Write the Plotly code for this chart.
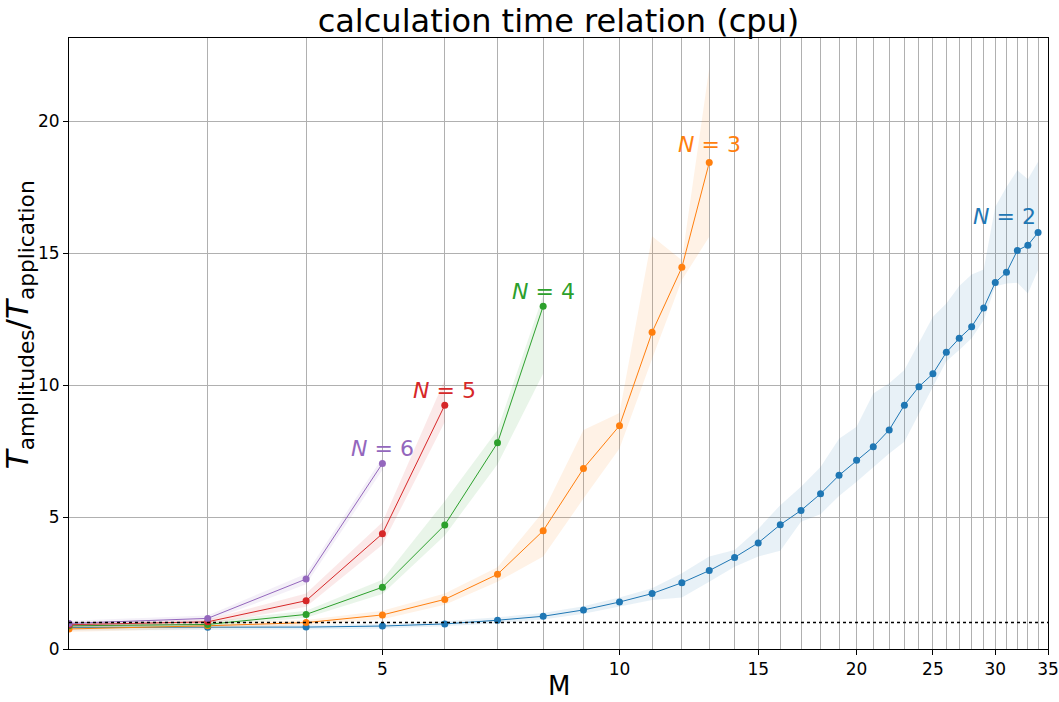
import math
import plotly.graph_objects as go

# Ratio T_amplitudes / T_application versus M, one series per N
M_n2 = list(range(2, 35))
mean_n2 = [0.82, 0.82, 0.83, 0.87, 0.95, 1.09, 1.24, 1.48, 1.78, 2.10, 2.51, 2.97, 3.47,
           4.02, 4.71, 5.25, 5.88, 6.58, 7.15, 7.66, 8.30, 9.24, 9.94, 10.43, 11.24,
           11.77, 12.21, 12.92, 13.89, 14.27, 15.10, 15.30, 15.78]
upper_n2 = [0.95, 0.93, 0.92, 0.95, 1.05, 1.20, 1.36, 1.62, 1.95, 2.30, 2.87, 3.50, 3.75,
            4.55, 5.45, 6.15, 6.90, 7.97, 8.42, 9.68, 10.07, 10.57, 11.58, 12.59, 13.09,
            13.75, 14.19, 14.38, 16.76, 17.50, 18.14, 17.80, 18.46]
lower_n2 = [0.70, 0.72, 0.74, 0.78, 0.86, 0.98, 1.12, 1.34, 1.62, 1.86, 1.95, 2.55, 3.12,
            3.50, 3.72, 4.82, 5.11, 5.80, 6.34, 6.88, 7.41, 7.85, 8.93, 9.94, 10.90,
            11.33, 11.77, 12.46, 13.73, 13.85, 13.88, 13.47, 14.36]

M_n3 = list(range(2, 14))
mean_n3 = [0.76, 0.88, 1.00, 1.29, 1.88, 2.83, 4.48, 6.84, 8.46, 12.00, 14.46, 18.43]
upper_n3 = [0.88, 0.98, 1.10, 1.45, 2.10, 3.10, 5.20, 8.30, 8.94, 15.64, 14.73, 22.00]
lower_n3 = [0.64, 0.78, 0.90, 1.13, 1.68, 2.55, 3.50, 5.70, 7.60, 11.00, 13.98, 15.62]

M_n4 = list(range(2, 9))
mean_n4 = [0.88, 0.93, 1.31, 2.34, 4.70, 7.81, 12.99]
upper_n4 = [0.98, 1.03, 1.45, 2.62, 5.60, 8.30, 13.40]
lower_n4 = [0.78, 0.85, 1.18, 2.08, 4.30, 7.00, 10.44]

M_n5 = list(range(2, 7))
mean_n5 = [0.92, 1.03, 1.83, 4.37, 9.24]
upper_n5 = [1.02, 1.12, 2.10, 4.80, 10.20]
lower_n5 = [0.82, 0.94, 1.60, 3.95, 8.60]

M_n6 = list(range(2, 6))
mean_n6 = [0.97, 1.16, 2.65, 7.03]
upper_n6 = [1.07, 1.27, 2.85, 7.25]
lower_n6 = [0.87, 1.05, 2.45, 6.78]

labels = ["2", "3", "4", "5", "6"]
label_x = [30.8, 13, 8, 6, 5]
label_y = [16.4, 19.1, 13.55, 9.8, 7.6]

x_ticks = [5, 10, 15, 20, 25, 30, 35]
x_minor = [m for m in range(3, 35) if m not in x_ticks]
y_ticks = [0, 5, 10, 15, 20]

colors = ["#1f77b4", "#ff7f0e", "#2ca02c", "#d62728", "#9467bd"]
fills = ["rgba(31,119,180,0.1)", "rgba(255,127,14,0.1)", "rgba(44,160,44,0.1)",
         "rgba(214,39,40,0.1)", "rgba(148,103,189,0.1)"]

series = [
    (M_n2, mean_n2, upper_n2, lower_n2),
    (M_n3, mean_n3, upper_n3, lower_n3),
    (M_n4, mean_n4, upper_n4, lower_n4),
    (M_n5, mean_n5, upper_n5, lower_n5),
    (M_n6, mean_n6, upper_n6, lower_n6),
]

FONT = "DejaVu Sans"
fig = go.Figure()

for (m, mean, up, lo), col, fc in zip(series, colors, fills):
    fig.add_trace(go.Scatter(
        x=m + m[::-1], y=up + lo[::-1], fill="toself", fillcolor=fc,
        line=dict(width=0), mode="lines", hoverinfo="skip", showlegend=False))
    fig.add_trace(go.Scatter(
        x=m, y=mean, mode="lines+markers", showlegend=False,
        line=dict(color=col, width=1), marker=dict(color=col, size=7)))

# reference level of 1
fig.add_trace(go.Scatter(
    x=[2, 35], y=[1, 1], mode="lines", showlegend=False,
    line=dict(color="black", width=1.5, dash="dot")))

for lab, lx, ly, col in zip(labels, label_x, label_y, colors):
    fig.add_annotation(
        x=math.log10(lx), y=ly, xref="x", yref="y", showarrow=False,
        text=f"<i>N</i> = {lab}", font=dict(family=FONT, size=22, color=col),
        xanchor="center", yanchor="middle")

# axis titles
fig.add_annotation(
    x=0.5, y=-0.061, xref="paper", yref="paper", showarrow=False, borderpad=0,
    text="M", font=dict(family=FONT, size=26, color="black"),
    xanchor="center", yanchor="middle")
fig.add_annotation(
    x=-0.051, y=0.53, xref="paper", yref="paper", showarrow=False, textangle=-90,
    text="<i>T</i><sub>amplitudes</sub>/<i>T</i><sub>application</sub>",
    font=dict(family=FONT, size=31, color="black"),
    xanchor="center", yanchor="middle")

fig.update_layout(
    width=1059, height=702,
    margin=dict(l=69, r=11, t=38, b=53),
    paper_bgcolor="white", plot_bgcolor="white",
    font=dict(family=FONT, size=17, color="black"),
    title=dict(text="calculation time relation (cpu)", x=0.5, xref="paper",
               y=1 - 21 / 702, yanchor="middle", font=dict(family=FONT, size=32)),
)

fig.update_xaxes(
    type="log", range=[math.log10(2), math.log10(35)], automargin=False,
    tickmode="array", tickvals=x_ticks, ticktext=[str(v) for v in x_ticks],
    ticks="outside", ticklen=5, tickcolor="black",
    showgrid=True, gridcolor="#b0b0b0", gridwidth=1,
    minor=dict(tickmode="array", tickvals=x_minor, showgrid=True,
               gridcolor="#b0b0b0", gridwidth=1, ticks=""),
    showline=True, linecolor="black", linewidth=1, mirror=True,
    zeroline=False,
)
fig.update_yaxes(
    range=[0, 23.15], tickmode="array", tickvals=y_ticks, automargin=False,
    ticks="outside", ticklen=5, tickcolor="black",
    showgrid=True, gridcolor="#b0b0b0", gridwidth=1,
    showline=True, linecolor="black", linewidth=1, mirror=True,
    zeroline=False,
)

fig.write_html("out.html")
